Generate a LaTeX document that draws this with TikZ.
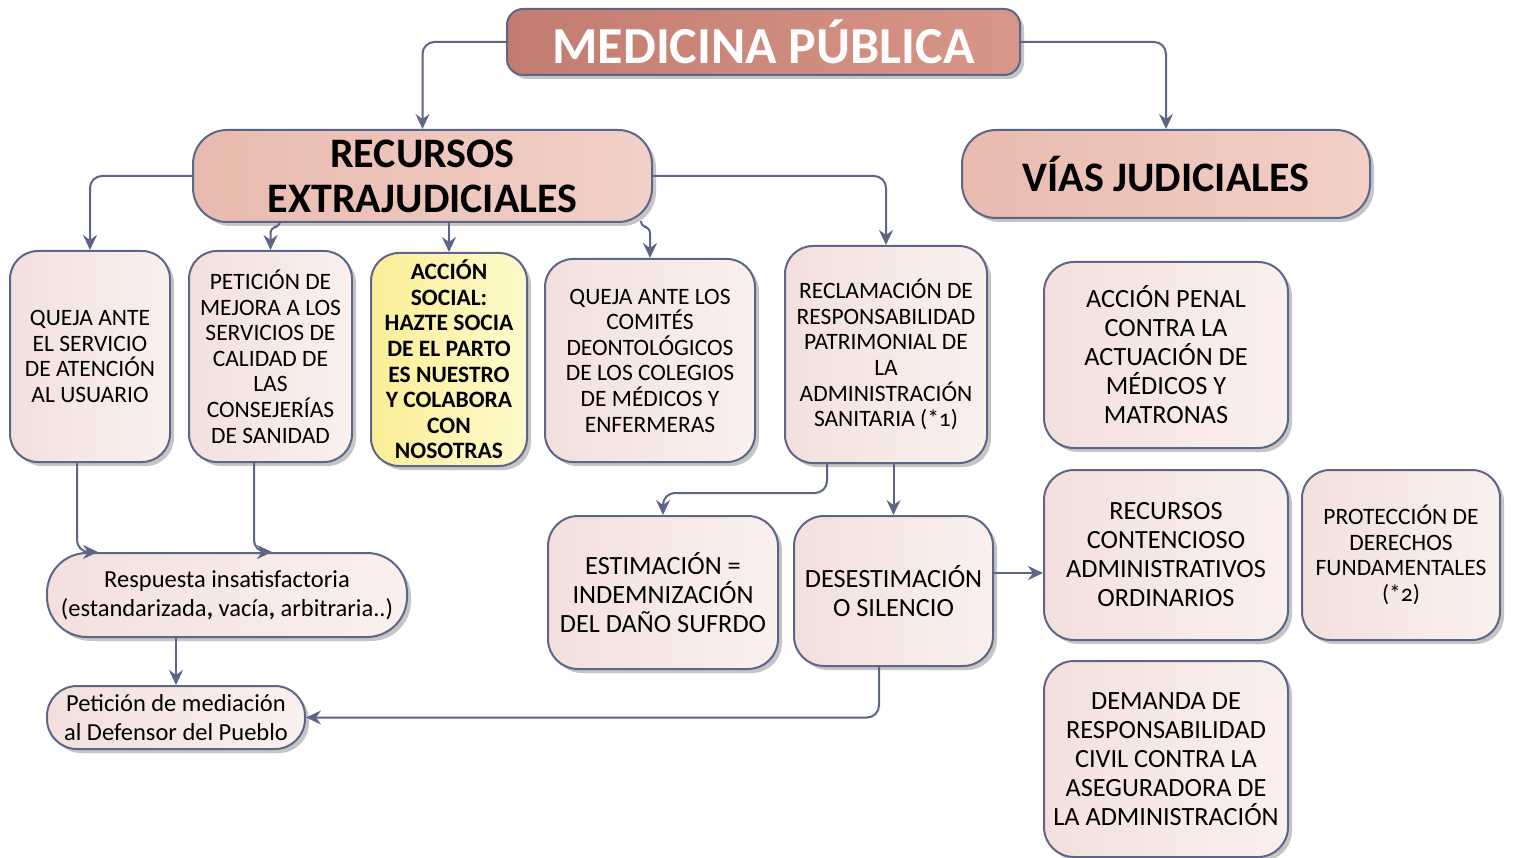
\documentclass[tikz,border=0pt]{standalone}
\usepackage{fontspec}
\setmainfont{Carlito}[Numbers=OldStyle]
\usetikzlibrary{shadows,arrows.meta,calc}
\definecolor{linec}{RGB}{93,102,137}
\definecolor{titleL}{RGB}{194,124,112}
\definecolor{titleR}{RGB}{216,150,136}
\definecolor{headL}{RGB}{233,186,174}
\definecolor{headR}{RGB}{242,208,200}
\definecolor{pinkL}{RGB}{243,224,221}
\definecolor{pinkR}{RGB}{250,240,238}
\definecolor{yelL}{RGB}{252,238,150}
\definecolor{yelR}{RGB}{254,250,205}
\tikzset{
  base/.style={draw=linec, line width=2pt, inner sep=0pt, align=center, text=black,
    drop shadow={shadow xshift=4pt, shadow yshift=-4pt, fill=black!45}},
  titlebox/.style={base, rounded corners=16pt, left color=titleL, right color=titleR,
    text=white, font=\fontsize{52}{56}\selectfont\bfseries},
  headbox/.style={base, rounded corners=34pt, left color=headL, right color=headR,
    font=\fontsize{42}{45}\selectfont\bfseries},
  pinkbox/.style={base, rounded corners=28pt, left color=pinkL, right color=pinkR,
    font=\fontsize{23.5}{25.6}\selectfont},
  bigpink/.style={base, rounded corners=30pt, left color=pinkL, right color=pinkR,
    font=\fontsize{26.3}{29}\selectfont},
  mixpink/.style={base, left color=pinkL, right color=pinkR,
    font=\fontsize{24.5}{29}\selectfont},
  yelbox/.style={base, rounded corners=28pt, left color=yelL, right color=yelR,
    font=\fontsize{23.5}{25.6}\selectfont\bfseries},
  conn/.style={draw=linec, line width=2pt, rounded corners=12pt,
    -{Stealth[length=15pt,width=14pt,inset=5pt]}},
}
\begin{document}
\begin{tikzpicture}[x=1pt,y=-1pt]
\useasboundingbox (0,0) rectangle (1514,858);
% top
\node[titlebox, minimum width=513pt, minimum height=66pt] (title) at (763.5,42) {MEDICINA PÚBLICA};
\node[headbox, minimum width=459pt, minimum height=92pt] (rex) at (422.5,176) {RECURSOS\\EXTRAJUDICIALES};
\node[headbox, minimum width=408pt, minimum height=88pt] (vias) at (1166,174) {VÍAS JUDICIALES};
% row 1
\node[pinkbox, minimum width=160pt, minimum height=211pt] (b1) at (90,356.5) {QUEJA ANTE\\EL SERVICIO\\DE ATENCIÓN\\AL USUARIO};
\node[pinkbox, minimum width=163pt, minimum height=211pt] (b2) at (270.5,356.5) {PETICIÓN DE\\MEJORA A LOS\\SERVICIOS DE\\CALIDAD DE\\LAS\\CONSEJERÍAS\\DE SANIDAD};
\node[yelbox, minimum width=156pt, minimum height=213pt] (b3) at (449,359.5) {ACCIÓN\\SOCIAL:\\HAZTE SOCIA\\DE EL PARTO\\ES NUESTRO\\Y COLABORA\\CON\\NOSOTRAS};
\node[pinkbox, minimum width=210pt, minimum height=203pt] (b4) at (650,360.5) {QUEJA ANTE LOS\\COMITÉS\\DEONTOLÓGICOS\\DE LOS COLEGIOS\\DE MÉDICOS Y\\ENFERMERAS};
\node[pinkbox, minimum width=202pt, minimum height=217pt] (b5) at (886,354.5) {RECLAMACIÓN DE\\RESPONSABILIDAD\\PATRIMONIAL DE\\LA\\ADMINISTRACIÓN\\SANITARIA (*1)};
\node[bigpink, minimum width=244pt, minimum height=186pt] (pen) at (1166,355) {ACCIÓN PENAL\\CONTRA LA\\ACTUACIÓN DE\\MÉDICOS Y\\MATRONAS};
% row 2
\node[mixpink, rounded corners=40pt, minimum width=360pt, minimum height=84pt] (resp) at (227,595) {Respuesta insatisfactoria\\(estandarizada\textbf{,} vacía\textbf{,} arbitraria..)};
\node[mixpink, rounded corners=30pt, minimum width=258pt, minimum height=63pt] (pet) at (176,717.5) {Petición de mediación\\al Defensor del Pueblo};
\node[bigpink, minimum width=230pt, minimum height=153pt] (est) at (663,592.5) {ESTIMACIÓN =\\INDEMNIZACIÓN\\DEL DAÑO SUFRDO};
\node[bigpink, minimum width=199pt, minimum height=150pt] (des) at (893.5,591) {DESESTIMACIÓN\\O SILENCIO};
\node[bigpink, minimum width=244pt, minimum height=170pt] (rca) at (1166,555) {RECURSOS\\CONTENCIOSO\\ADMINISTRATIVOS\\ORDINARIOS};
\node[pinkbox, minimum width=198pt, minimum height=170pt] (pro) at (1401,555) {PROTECCIÓN DE\\DERECHOS\\FUNDAMENTALES\\(*2)};
\node[bigpink, minimum width=244pt, minimum height=196pt] (dem) at (1166,759) {DEMANDA DE\\RESPONSABILIDAD\\CIVIL CONTRA LA\\ASEGURADORA DE\\LA ADMINISTRACIÓN};
% helper points
\coordinate (r2) at (280,221);
\coordinate (r4) at (641,221);
% connectors
\draw[conn] (title.west) -| (rex.north);
\draw[conn] (title.east) -| (vias.north);
\draw[conn] (rex.west) -| (b1.north);
\draw[conn, rounded corners=6pt] (r2) -- ++(0,6) -| (b2.north);
\draw[conn] (rex.south -| b3.north) -- (b3.north);
\draw[conn, rounded corners=6pt] (r4) -- ++(0,6) -| (b4.north);
\draw[conn] (rex.east) -| (b5.north);
\draw[conn] ([xshift=-13pt]b1.south) |- ([xshift=-129pt]resp.north);
\draw[conn] ([xshift=-16.5pt]b2.south) |- ([xshift=45pt]resp.north);
\draw[conn] (pet.north |- resp.south) -- (pet.north);
\draw[conn] ([xshift=-14.5pt]des.south) |- (pet.east);
\draw[conn] ([xshift=-59pt]b5.south) -- ++(0,29) -| (est.north);
\draw[conn] (des.north |- b5.south) -- (des.north);
\draw[conn] ([yshift=18pt]des.east) -- ([yshift=18pt]des.east -| rca.west);
\end{tikzpicture}
\end{document}
